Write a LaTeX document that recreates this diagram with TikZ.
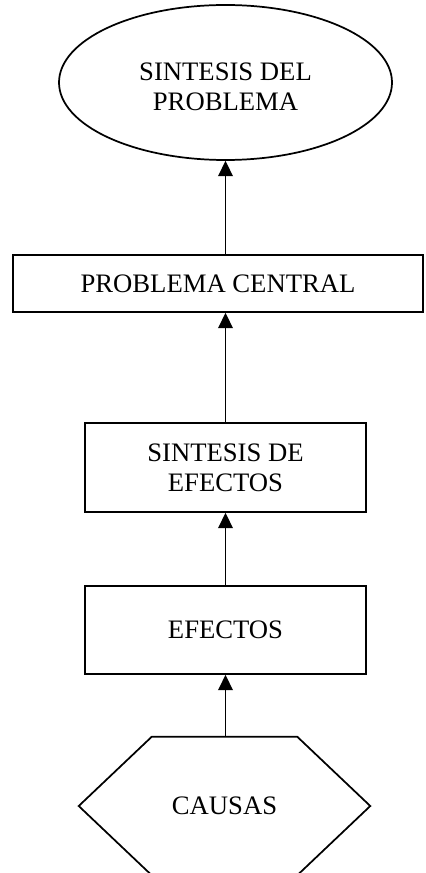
\documentclass[tikz,border=0pt]{standalone}
\usepackage{fontspec}
\setmainfont{Liberation Serif}
\usetikzlibrary{arrows.meta}
\usetikzlibrary{calc}
\usetikzlibrary{shapes.geometric}
\tikzset{
  prtext/.style={
    inner sep=0pt, align=center,
    font=\fontsize{20}{22.5}\selectfont},
  prbox/.style={prtext, draw, line width=1.3pt},
  proval/.style={
    prbox, ellipse, minimum width=249.75pt, minimum height=116.25pt},
  prarrow/.style={-{Triangle[length=11.5pt, width=11pt]}, line width=1.3pt},
  prhex/.style={line width=1.3pt, line join=miter},
}

\begin{document}
\begin{tikzpicture}[x=0.75pt, y=-0.75pt]
\useasboundingbox (0, 0) rectangle (425, 873);

% Synthesis at the top.
\node[proval] (sintesis) at (225.5, 82.5) {};
\node[prtext] (sintesistxt) at ($(sintesis.center)+(0, 4)$)
  {SINTESIS DEL\\PROBLEMA};

% Central problem, wide box.
\node[prbox, minimum width=307.5pt, minimum height=42.75pt]
  (central) at (218, 283.5) {PROBLEMA CENTRAL};

% Effects.
\node[prbox, minimum width=210.75pt, minimum height=66.75pt]
  (sefectos) at (225.5, 467.5) {SINTESIS DE\\EFECTOS};
\node[prbox, minimum width=210.75pt, minimum height=66pt]
  (efectos) at (225.5, 630) {EFECTOS};

% Causes, hexagon drawn round the text.
\node[prtext, minimum width=108.75pt, minimum height=103.5pt]
  (causas) at (224.5, 806) {CAUSAS};
\draw[prhex] (causas.north west) -- (causas.north east)
  -- ($(causas.east)+(73, 0)$) -- (causas.south east)
  -- (causas.south west) -- ($(causas.west)+(-73, 0)$) -- cycle;

% Arrows upward.
\draw[prarrow] (causas.north -| efectos.south) -- (efectos.south);
\draw[prarrow] (efectos.north) -- (sefectos.south);
\draw[prarrow] (sefectos.north) -- (sefectos.north |- central.south);
\draw[prarrow] (sintesis.south |- central.north) -- (sintesis.south);

\end{tikzpicture}
\end{document}
